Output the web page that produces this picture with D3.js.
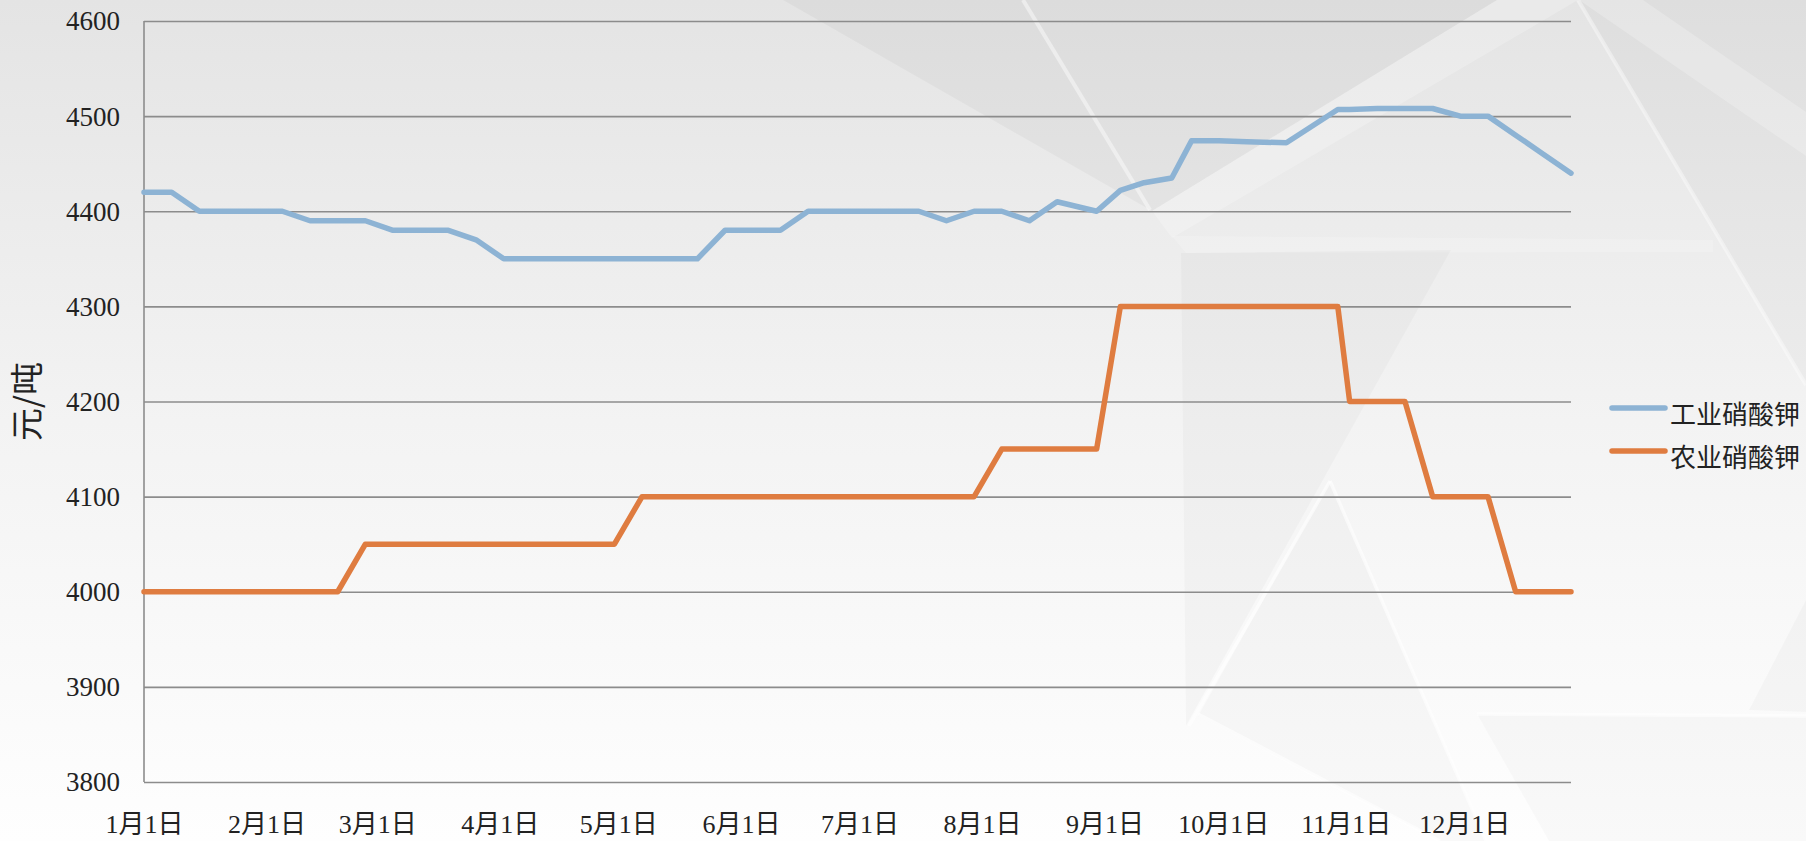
<!DOCTYPE html>
<html>
<head>
<meta charset="utf-8">
<script src="https://cdn.jsdelivr.net/npm/d3@7/dist/d3.min.js"></script>
<style>
  html, body { margin: 0; padding: 0; background: #fff; }
  svg { display: block; }
</style>
</head>
<body>
<svg id="chart" width="1806" height="841"></svg>
<script>
// ---- Data ----
const dates = [
  "2021-01-01","2021-01-08","2021-01-15","2021-01-22","2021-01-29",
  "2021-02-05","2021-02-12","2021-02-19","2021-02-26",
  "2021-03-05","2021-03-12","2021-03-19","2021-03-26",
  "2021-04-02","2021-04-09","2021-04-16","2021-04-23","2021-04-30",
  "2021-05-07","2021-05-14","2021-05-21","2021-05-28",
  "2021-06-04","2021-06-11","2021-06-18","2021-06-25",
  "2021-07-02","2021-07-09","2021-07-16","2021-07-23","2021-07-30",
  "2021-08-06","2021-08-13","2021-08-20","2021-08-30",
  "2021-09-05","2021-09-11","2021-09-18","2021-09-23","2021-09-30",
  "2021-10-07","2021-10-17","2021-10-30",
  "2021-11-02","2021-11-09","2021-11-16","2021-11-23","2021-11-30",
  "2021-12-07","2021-12-14","2021-12-21","2021-12-28"
];
const industrial = [
  4420,4420,4400,4400,4400,
  4400,4390,4390,4390,
  4380,4380,4380,4370,
  4350,4350,4350,4350,4350,
  4350,4350,4350,4380,
  4380,4380,4400,4400,
  4400,4400,4400,4390,4400,
  4400,4390,4410,4400,
  4422,4430,4435,4474,4474,
  4473,4472,4507,
  4507,4508,4508,4508,4500,
  4500,4480,4460,4440
];
const agricultural = [
  4000,4000,4000,4000,4000,
  4000,4000,4000,4050,
  4050,4050,4050,4050,
  4050,4050,4050,4050,4050,
  4100,4100,4100,4100,
  4100,4100,4100,4100,
  4100,4100,4100,4100,4100,
  4150,4150,4150,4150,
  4300,4300,4300,4300,4300,
  4300,4300,4300,
  4200,4200,4200,4100,4100,
  4100,4000,4000,4000
];
const seriesNames = ["工业硝酸钾", "农业硝酸钾"];
const seriesColors = ["#8db3d4", "#df7c40"];
const yTicks = [3800,3900,4000,4100,4200,4300,4400,4500,4600];
const xTickDates = ["2021-01-01","2021-02-01","2021-03-01","2021-04-01","2021-05-01","2021-06-01",
                    "2021-07-01","2021-08-01","2021-09-01","2021-10-01","2021-11-01","2021-12-01"];
const yTitle = "元/吨";

// ---- Setup ----
const W = 1806, H = 841;
const plot = {left: 144, right: 1571, top: 21, bottom: 782};
const parse = d3.timeParse("%Y-%m-%d");
const svg = d3.select("#chart");

// background
const defs = svg.append("defs");
const bg = defs.append("linearGradient").attr("id","bg").attr("x1",0).attr("y1",0).attr("x2",0).attr("y2",1);
bg.append("stop").attr("offset","0%").attr("stop-color","#e4e4e4");
bg.append("stop").attr("offset","50%").attr("stop-color","#f3f3f3");
bg.append("stop").attr("offset","100%").attr("stop-color","#fefefe");
svg.append("rect").attr("width",W).attr("height",H).attr("fill","url(#bg)");

// decorative shapes
const deco = svg.append("g");
const poly = (pts, fill, op) => deco.append("polygon")
  .attr("points", pts.map(p => p.join(",")).join(" ")).attr("fill", fill).attr("fill-opacity", op);
const seg = (a, b, w, op) => deco.append("line")
  .attr("x1",a[0]).attr("y1",a[1]).attr("x2",b[0]).attr("y2",b[1])
  .attr("stroke","#fff").attr("stroke-width",w).attr("stroke-opacity",op);
poly([[783,0],[1497,0],[1152,211]], "#000", 0.03);
poly([[1497,0],[1578,0],[1172,238],[1152,211]], "#fff", 0.22);
poly([[1578,0],[1806,0],[1806,385]], "#000", 0.025);
poly([[1579,0],[1643,0],[1806,112],[1806,156]], "#fff", 0.22);
poly([[1172,236],[1713,240],[1713,252],[1186,253]], "#fff", 0.2);
poly([[1181,253],[1451,250],[1186,726]], "#000", 0.025);
poly([[1330,481],[1198,716],[1440,841],[1486,841]], "#000", 0.02);
poly([[1477,714],[1806,716],[1806,841],[1549,841]], "#000", 0.018);
poly([[1749,710],[1806,600],[1806,712]], "#000", 0.025);
seg([1023,0],[1150,210], 4, 0.45);
seg([1578,0],[1806,385], 4, 0.4);
seg([1330,481],[1189,726], 3.5, 0.6);
seg([1330,481],[1486,841], 3.5, 0.6);
seg([1198,714],[1440,841], 3.5, 0.6);
seg([1477,714],[1806,716], 3.5, 0.6);

// scales
const x = d3.scaleTime()
  .domain([parse(dates[0]), parse(dates[dates.length-1])])
  .range([plot.left, plot.right]);
const y = d3.scaleLinear().domain([3800, 4600]).range([plot.bottom, plot.top]);

// gridlines
const yAxis = d3.axisLeft(y).tickValues(yTicks).tickSize(-(plot.right - plot.left)).tickPadding(24).tickFormat(d3.format("d"));
const gy = svg.append("g").attr("transform", `translate(${plot.left},0)`).call(yAxis);
gy.select(".domain").remove();
gy.selectAll(".tick line").attr("stroke", "#8c8c8c").attr("stroke-width", 1.6);
gy.selectAll(".tick text")
  .attr("font-family", "'Liberation Serif', 'Times New Roman', serif")
  .attr("font-size", 27).attr("fill", "#222").attr("dy", "0.33em");

// left axis line
svg.append("line").attr("x1", plot.left).attr("x2", plot.left)
  .attr("y1", plot.top).attr("y2", plot.bottom)
  .attr("stroke", "#8c8c8c").attr("stroke-width", 1.6);

// x axis labels
const xAxis = d3.axisBottom(x).tickValues(xTickDates.map(parse)).tickSize(0).tickPadding(0)
  .tickFormat(d => (d.getMonth() + 1) + "月1日");
const gx = svg.append("g").attr("transform", `translate(0,${plot.bottom})`).call(xAxis);
gx.select(".domain").remove();
gx.selectAll(".tick text")
  .attr("font-family", "'Liberation Serif', 'Noto Sans CJK SC', serif")
  .attr("font-size", 26).attr("fill", "#222").attr("y", 51).attr("dy", 0);

// y title
svg.append("text").attr("transform", `translate(39,${(plot.top + plot.bottom) / 2}) rotate(-90)`)
  .attr("text-anchor", "middle")
  .attr("font-family", "'Noto Sans CJK SC', sans-serif")
  .attr("font-size", 33).attr("fill", "#222").text(yTitle);

// lines
const seriesData = [industrial, agricultural];
const line = d3.line().x((d, i) => x(parse(dates[i]))).y(d => y(d));
seriesData.forEach((vals, si) => {
  svg.append("path").datum(vals)
    .attr("d", line)
    .attr("fill", "none")
    .attr("stroke", seriesColors[si])
    .attr("stroke-width", 5.5)
    .attr("stroke-linejoin", "round")
    .attr("stroke-linecap", "round");
});

// legend
const legend = svg.append("g");
seriesNames.forEach((name, i) => {
  const ly = 408 + i * 43;
  legend.append("line").attr("x1", 1612).attr("x2", 1665).attr("y1", ly).attr("y2", ly)
    .attr("stroke", seriesColors[i]).attr("stroke-width", 5.5).attr("stroke-linecap", "round");
  legend.append("text").attr("x", 1670).attr("y", ly + 4)
    .attr("dominant-baseline", "central")
    .attr("font-family", "'Noto Sans CJK SC', sans-serif")
    .attr("font-size", 26).attr("fill", "#222").text(name);
});
</script>
</body>
</html>
